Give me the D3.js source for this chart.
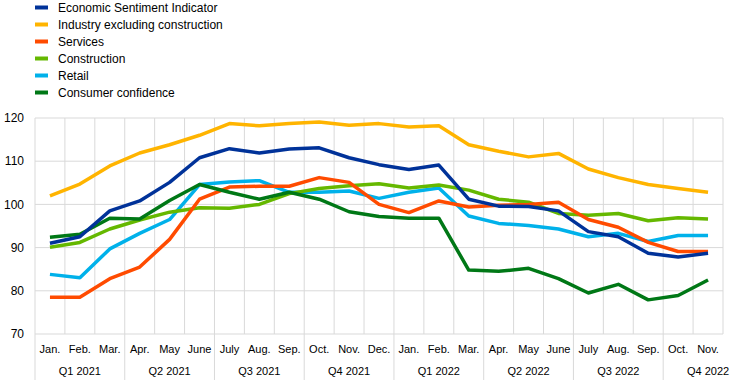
<!DOCTYPE html>
<html>
<head>
<meta charset="utf-8">
<script src="https://cdn.jsdelivr.net/npm/d3@7"></script>
<style>
  html, body { margin: 0; padding: 0; background: #fff; }
  svg { display: block; font-family: "Liberation Sans", Arial, sans-serif; }
</style>
</head>
<body>
<svg id="chart" width="744" height="385"></svg>
<script>
// ---------- DATA ----------
const months = ["Jan.","Feb.","Mar.","Apr.","May","June","July","Aug.","Sep.","Oct.","Nov.","Dec.",
                "Jan.","Feb.","Mar.","Apr.","May","June","July","Aug.","Sep.","Oct.","Nov."];
const quarters = ["Q1 2021","Q2 2021","Q3 2021","Q4 2021","Q1 2022","Q2 2022","Q3 2022","Q4 2022"];
const yTicks = [70, 80, 90, 100, 110, 120];

const seriesNames = ["Economic Sentiment Indicator","Industry excluding construction","Services",
                     "Construction","Retail","Consumer confidence"];
const esi          = [91.0, 92.5, 98.5,100.8,105.1,110.8,112.9,111.9,112.8,113.1,110.8,109.2,108.1,109.1,101.2, 99.6, 99.5, 98.5, 93.7, 92.5, 88.7, 87.8, 88.7];
const industry     = [102.0,104.7,108.9,111.9,113.8,116.0,118.7,118.2,118.7,119.1,118.3,118.7,117.9,118.2,113.8,112.3,111.0,111.8,108.2,106.2,104.6,103.7,102.8];
const services     = [78.5, 78.5, 82.8, 85.5, 91.9,101.2,104.0,104.2,104.2,106.2,105.1,100.0, 98.1,100.8, 99.4, 99.8,100.0,100.5, 96.5, 94.7, 91.2, 89.1, 89.1];
const construction = [90.1, 91.2, 94.3, 96.4, 98.2, 99.2, 99.1,100.0,102.5,103.7,104.3,104.8,103.8,104.5,103.3,101.2,100.5, 97.9, 97.5, 97.9, 96.2, 96.9, 96.6];
const retail       = [83.8, 83.0, 89.7, 93.3, 96.5,104.6,105.2,105.5,102.8,102.8,103.1,101.4,102.8,103.8, 97.3, 95.6, 95.1, 94.3, 92.5, 93.3, 91.4, 92.8, 92.8];
const consumer     = [92.4, 93.1, 96.8, 96.6,100.9,104.6,102.8,101.2,102.8,101.2, 98.3, 97.2, 96.8, 96.8, 84.8, 84.5, 85.2, 82.8, 79.5, 81.5, 77.9, 78.9, 82.5];
const colors = ["#003299","#FFB400","#FF4B00","#65B800","#00B1EA","#007816"];
// drawing order, bottom to top (indices into the series list)
const drawOrder = [4, 3, 2, 1, 5, 0];

// ---------- CHART ----------
const svg = d3.select("#chart");
const plot = { left: 35, right: 723, top: 118, bottom: 334 };
const grid = "#d9d9d9";

const idx = months.map((m, i) => i);
const x = d3.scaleBand().domain(idx).range([plot.left, plot.right]).padding(0);
const y = d3.scaleLinear().domain([70, 120]).range([plot.bottom, plot.top]);

// horizontal gridlines
svg.append("g").selectAll("line").data(yTicks).join("line")
  .attr("x1", plot.left).attr("x2", plot.right)
  .attr("y1", d => y(d)).attr("y2", d => y(d))
  .attr("stroke", grid).attr("stroke-width", 1);

// vertical gridlines at month boundaries
const bounds = idx.map(i => x(i)).concat([plot.right]);
svg.append("g").selectAll("line").data(bounds).join("line")
  .attr("x1", d => d).attr("x2", d => d)
  .attr("y1", plot.top).attr("y2", plot.bottom)
  .attr("stroke", grid).attr("stroke-width", 1);

// quarter separators below axis
const qBounds = quarters.map((q, i) => x(i * 3));
svg.append("g").selectAll("line").data(qBounds).join("line")
  .attr("x1", d => d).attr("x2", d => d)
  .attr("y1", plot.bottom).attr("y2", 380)
  .attr("stroke", grid).attr("stroke-width", 1);

// y labels
svg.append("g").selectAll("text").data(yTicks).join("text")
  .attr("x", 24).attr("y", d => y(d)).attr("dy", "0.35em")
  .attr("text-anchor", "end").attr("font-size", 12).attr("fill", "#000")
  .text(d => d);

// month labels
svg.append("g").selectAll("text").data(idx).join("text")
  .attr("x", i => x(i) + x.bandwidth() / 2).attr("y", 353)
  .attr("text-anchor", "middle").attr("font-size", 11).attr("fill", "#000")
  .text(i => months[i]);

// quarter labels (centred on a full 3-month span)
svg.append("g").selectAll("text").data(quarters).join("text")
  .attr("x", (q, i) => x(i * 3) + 1.5 * x.bandwidth()).attr("y", 375)
  .attr("text-anchor", "middle").attr("font-size", 11).attr("fill", "#000")
  .text(q => q);

// lines
const allSeries = [esi, industry, services, construction, retail, consumer];
const line = d3.line().x((d, i) => x(i) + x.bandwidth() / 2).y(d => y(d));
svg.append("g").selectAll("path").data(drawOrder).join("path")
  .attr("d", k => line(allSeries[k])).attr("fill", "none")
  .attr("stroke", k => colors[k]).attr("stroke-width", 3.5)
  .attr("stroke-linejoin", "round").attr("stroke-linecap", "butt");

// legend
const lg = svg.append("g").selectAll("g").data(seriesNames).join("g")
  .attr("transform", (d, i) => `translate(0, ${7.5 + i * 17})`);
lg.append("line").attr("x1", 35).attr("x2", 48).attr("y1", 0).attr("y2", 0)
  .attr("stroke", (d, i) => colors[i]).attr("stroke-width", 4);
lg.append("text").attr("x", 58).attr("y", 0).attr("dy", "0.35em")
  .attr("font-size", 12).attr("fill", "#000").text(d => d);
</script>
</body>
</html>
